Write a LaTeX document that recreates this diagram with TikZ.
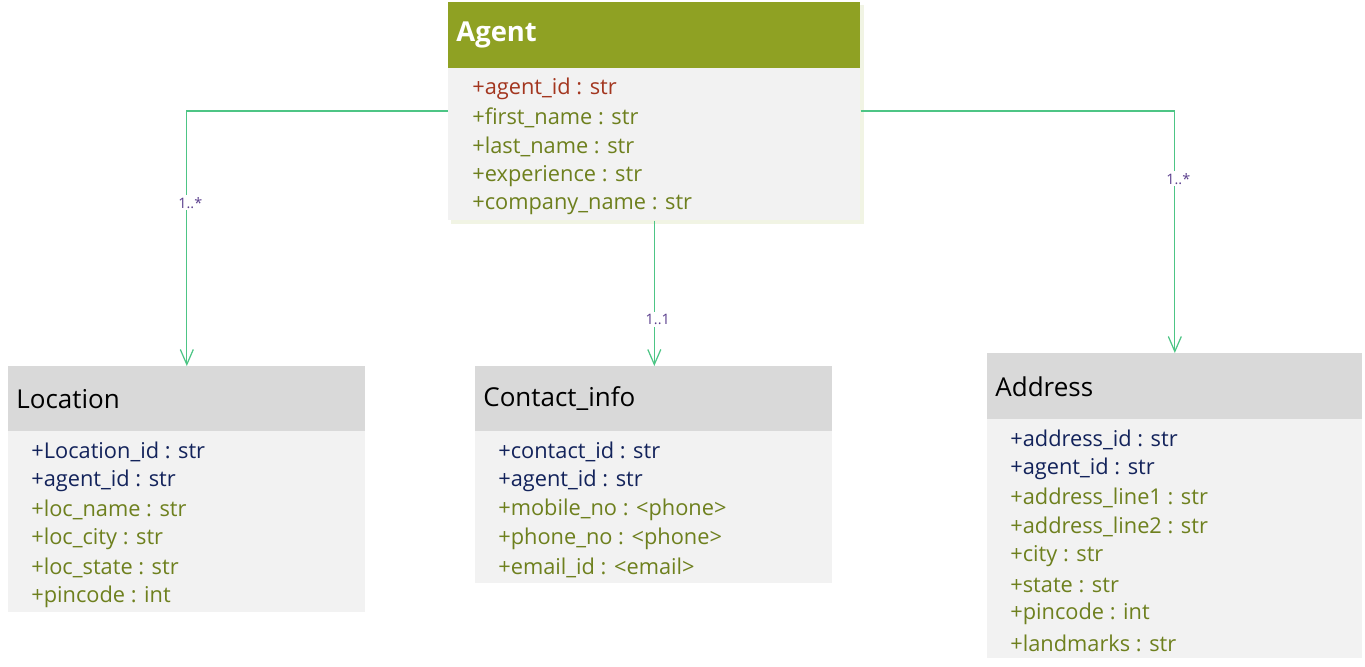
\documentclass[tikz,border=0pt]{standalone}
\usepackage{fontspec}
\setmainfont{Open Sans}
\usetikzlibrary{arrows.meta}

\definecolor{agentolive}{HTML}{8FA123}
\definecolor{headgray}{HTML}{D9D9D9}
\definecolor{bodygray}{HTML}{F2F2F2}
\definecolor{keyred}{HTML}{A3361F}
\definecolor{attrolive}{HTML}{6E801E}
\definecolor{keynavy}{HTML}{13235B}
\definecolor{linkgreen}{HTML}{4DC585}
\definecolor{multpurple}{HTML}{5B3F8D}

\tikzset{
    classhead/.style={fill=headgray,anchor=north west,inner sep=0pt},
    classbody/.style={fill=bodygray,anchor=north west,inner sep=0pt},
    classname/.style={anchor=west,inner sep=0pt,font=\fontsize{14.8}{18}\selectfont},
    attr/.style={anchor=west,inner sep=0pt,font=\fontsize{12.4}{15}\selectfont},
    link/.style={draw=linkgreen,line width=0.7pt,-{Straight Barb[length=0.3cm,width=0.26cm,line width=0.7pt]}},
    mult/.style={fill=white,inner sep=1pt,text=multpurple,font=\fontsize{8.2}{10}\selectfont,xshift=0.07cm}
}

\begin{document}
\begin{tikzpicture}[x=0.02cm,y=-0.02cm]
    \useasboundingbox (0,0) rectangle (1365,666);

    % Agent
    \fill[agentolive!12] (451,5) rectangle (864,224);
    \node[classhead,fill=agentolive,minimum width=8.24cm,minimum height=1.32cm] (agenthead) at (448,2) {};
    \node[classbody,minimum width=8.24cm,minimum height=3.04cm] (agentbody) at (448,68) {};
    \node[classname,text=white,font=\fontsize{15.6}{18}\selectfont\bfseries] (agentname) at ([xshift=0.16cm]agenthead.west) {Agent};
    \foreach \c/\t [count=\i] in {keyred/+agent\_id : str, attrolive/+first\_name : str, attrolive/+last\_name : str,
            attrolive/+experience : str, attrolive/+company\_name : str}
        \node[attr,text=\c] (agent-\i) at (472,60+29*\i) {\t};

    % Location
    \node[classhead,minimum width=7.14cm,minimum height=1.30cm] (locationhead) at (8,366) {};
    \node[classbody,minimum width=7.14cm,minimum height=3.62cm] (locationbody) at (8,431) {};
    \node[classname] (locationname) at ([xshift=0.16cm]locationhead.west) {Location};
    \foreach \c/\t [count=\i] in {keynavy/+Location\_id : str, keynavy/+agent\_id : str, attrolive/+loc\_name : str,
            attrolive/+loc\_city : str, attrolive/+loc\_state : str, attrolive/+pincode : int}
        \node[attr,text=\c] (location-\i) at (31,423+29*\i) {\t};

    % Contact_info
    \node[classhead,minimum width=7.14cm,minimum height=1.30cm] (contacthead) at (475,366) {};
    \node[classbody,minimum width=7.14cm,minimum height=3.04cm] (contactbody) at (475,431) {};
    \node[classname] (contactname) at ([xshift=0.16cm]contacthead.west) {Contact\_info};
    \foreach \c/\t [count=\i] in {keynavy/+contact\_id : str, keynavy/+agent\_id : str, attrolive/+mobile\_no : <phone>,
            attrolive/+phone\_no : <phone>, attrolive/+email\_id : <email>}
        \node[attr,text=\c] (contact-\i) at (498,423+29*\i) {\t};

    % Address
    \node[classhead,minimum width=7.50cm,minimum height=1.32cm] (addresshead) at (987,353) {};
    \node[classbody,minimum width=7.50cm,minimum height=4.78cm] (addressbody) at (987,419) {};
    \node[classname] (addressname) at ([xshift=0.16cm]addresshead.west) {Address};
    \foreach \c/\t [count=\i] in {keynavy/+address\_id : str, keynavy/+agent\_id : str, attrolive/+address\_line1 : str,
            attrolive/+address\_line2 : str, attrolive/+city : str, attrolive/+state : str,
            attrolive/+pincode : int, attrolive/+landmarks : str}
        \node[attr,text=\c] (address-\i) at (1010,411+29*\i) {\t};

    % associations
    \coordinate (linkrow) at (0,111);
    \draw[link] (agentbody.west |- linkrow) -| (locationhead.north)
        node[mult,pos=0.68] (multloc) {1..*};
    \draw[link] (agentbody.south) -- (agentbody.south |- contacthead.north)
        node[mult,pos=0.68] (multcontact) {1..1};
    \draw[link] (agentbody.east |- linkrow) -| (addresshead.north)
        node[mult,pos=0.64] (multaddress) {1..*};
\end{tikzpicture}
\end{document}
